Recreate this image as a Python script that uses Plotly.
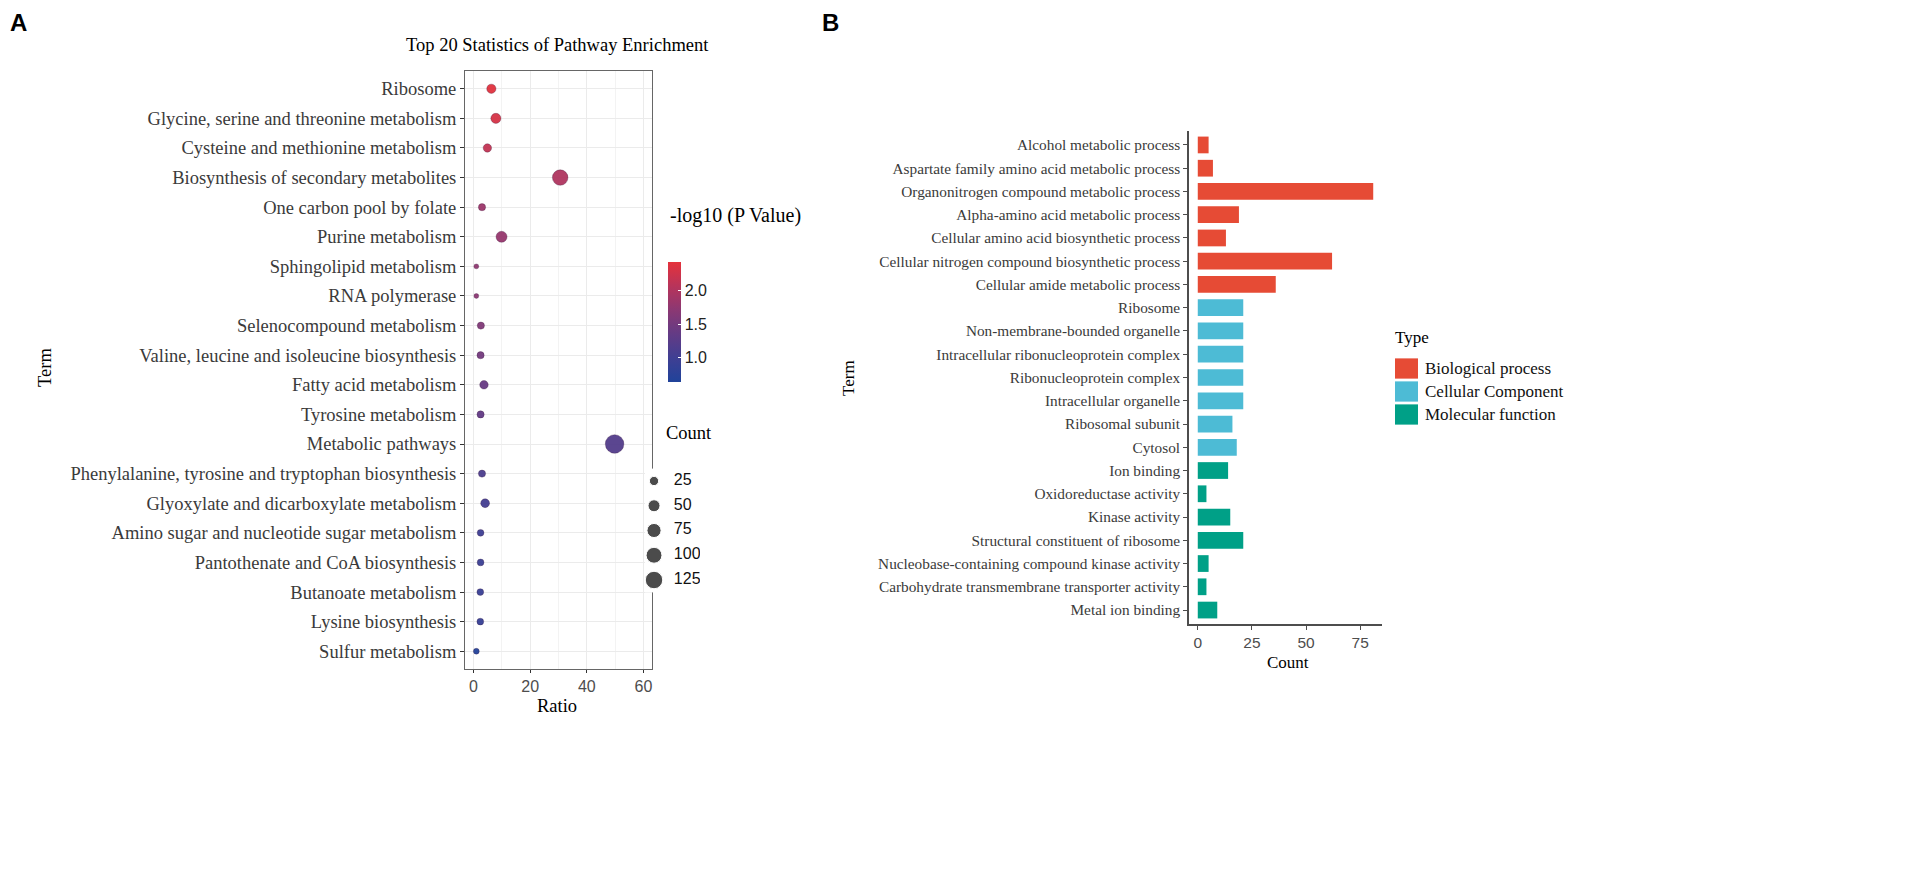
import numpy as np
import plotly.graph_objects as go

W, H = 1910, 883

# ---------------- Panel A data (KEGG pathway enrichment) ----------------
pathway_terms = [
    "Ribosome",
    "Glycine, serine and threonine metabolism",
    "Cysteine and methionine metabolism",
    "Biosynthesis of secondary metabolites",
    "One carbon pool by folate",
    "Purine metabolism",
    "Sphingolipid metabolism",
    "RNA polymerase",
    "Selenocompound metabolism",
    "Valine, leucine and isoleucine biosynthesis",
    "Fatty acid metabolism",
    "Tyrosine metabolism",
    "Metabolic pathways",
    "Phenylalanine, tyrosine and tryptophan biosynthesis",
    "Glyoxylate and dicarboxylate metabolism",
    "Amino sugar and nucleotide sugar metabolism",
    "Pantothenate and CoA biosynthesis",
    "Butanoate metabolism",
    "Lysine biosynthesis",
    "Sulfur metabolism",
]
pathway_ratio = [6.3, 7.9, 4.9, 30.6, 3.0, 9.9, 1.0, 1.0, 2.6, 2.5,
                 3.7, 2.5, 49.8, 3.0, 4.1, 2.5, 2.5, 2.4, 2.4, 1.0]
pathway_count = [25, 32, 19, 95, 12, 40, 3, 3, 12, 12,
                 20, 12, 145, 12, 22, 10, 10, 10, 10, 6]
pathway_logp = [2.40, 2.30, 2.15, 2.00, 1.85, 1.80, 1.75, 1.72, 1.62, 1.50,
                1.40, 1.35, 1.20, 1.12, 1.05, 0.98, 0.95, 0.92, 0.88, 0.66]
count_breaks = [25, 50, 75, 100, 125]
ratio_ticks = [0, 20, 40, 60]
logp_ticks = [1.0, 1.5, 2.0]

# ---------------- Panel B data (GO classification) ----------------
go_terms = [
    "Alcohol metabolic process",
    "Aspartate family amino acid metabolic process",
    "Organonitrogen compound metabolic process",
    "Alpha-amino acid metabolic process",
    "Cellular amino acid biosynthetic process",
    "Cellular nitrogen compound biosynthetic process",
    "Cellular amide metabolic process",
    "Ribosome",
    "Non-membrane-bounded organelle",
    "Intracellular ribonucleoprotein complex",
    "Ribonucleoprotein complex",
    "Intracellular organelle",
    "Ribosomal subunit",
    "Cytosol",
    "Ion binding",
    "Oxidoreductase activity",
    "Kinase activity",
    "Structural constituent of ribosome",
    "Nucleobase-containing compound kinase activity",
    "Carbohydrate transmembrane transporter activity",
    "Metal ion binding",
]
go_counts = [5, 7, 81, 19, 13, 62, 36, 21, 21, 21, 21, 21, 16, 18,
             14, 4, 15, 21, 5, 4, 9]
go_types = (["Biological process"] * 7 + ["Cellular Component"] * 7 +
            ["Molecular function"] * 7)
type_names = ["Biological process", "Cellular Component", "Molecular function"]
type_colors = ["#E64B35", "#4DBBD5", "#00A087"]
count_ticks = [0, 25, 50, 75]

# ---------------- helpers (layout only) ----------------
SERIF = "Liberation Serif"
SANS = "Liberation Sans"


def px(x):
    return x / W


def py(y):
    return 1 - y / H


def dot_size(c):
    return 2.6 + 1.33 * np.sqrt(np.asarray(c, dtype=float))


colorscale = [
    [0.0, "#20439a"],
    [0.2, "#3f3f93"],
    [0.4, "#633b85"],
    [0.6, "#8b3873"],
    [0.8, "#b8345a"],
    [1.0, "#e5323b"],
]

fig = go.Figure()

# Panel A bubbles
fig.add_trace(go.Scatter(
    x=pathway_ratio, y=pathway_terms, mode="markers",
    xaxis="x", yaxis="y", showlegend=False,
    marker=dict(
        size=dot_size(pathway_count), color=pathway_logp,
        colorscale=colorscale, cmin=0.64, cmax=2.43, opacity=0.95,
        line=dict(width=0.8, color="rgba(40,0,40,0.35)"),
        colorbar=dict(
            x=px(668), xanchor="left", xpad=0, ypad=0,
            y=py(322), yanchor="middle", len=120, lenmode="pixels",
            thickness=13, outlinewidth=0,
            tickvals=logp_ticks, ticktext=[f"{v:.1f}" for v in logp_ticks],
            ticks="inside", ticklen=3, tickcolor="white", tickwidth=1,
            tickfont=dict(family=SANS, size=16, color="#222"),
        ),
    ),
))

# Count size legend (keys drawn with the same size scale)
fig.add_trace(go.Scatter(
    x=[0] * len(count_breaks), y=[str(b) for b in count_breaks],
    mode="markers", xaxis="x3", yaxis="y3", showlegend=False,
    marker=dict(size=dot_size(count_breaks), color="black"),
    hoverinfo="skip",
))
fig.add_trace(go.Scatter(
    x=[2.2] * len(count_breaks), y=[str(b) for b in count_breaks],
    mode="text", text=[str(b) for b in count_breaks],
    textposition="middle right", xaxis="x3", yaxis="y3", showlegend=False,
    textfont=dict(family=SANS, size=16, color="#111"), hoverinfo="skip",
))

# Panel B bars
bar_colors = [type_colors[type_names.index(t)] for t in go_types]
fig.add_trace(go.Bar(
    x=go_counts, y=go_terms, orientation="h", xaxis="x2", yaxis="y2",
    marker=dict(color=bar_colors, line=dict(width=0)), width=0.72,
    showlegend=False,
))

# Type legend keys
fig.add_trace(go.Bar(
    x=[1] * len(type_names), y=type_names, orientation="h",
    xaxis="x4", yaxis="y4", width=0.88,
    marker=dict(color=type_colors, line=dict(width=0)), showlegend=False,
    hoverinfo="skip",
))

mx = max(go_counts)

fig.update_layout(
    width=W, height=H, autosize=False,
    margin=dict(l=0, r=0, t=0, b=0),
    paper_bgcolor="white", plot_bgcolor="white",
    barmode="overlay",
    xaxis=dict(
        domain=[px(465), px(652)], anchor="y", range=[-3, 63],
        tickvals=ratio_ticks, showgrid=True, gridcolor="#EBEBEB", gridwidth=1.1,
        minor=dict(tickvals=[10, 30, 50], showgrid=True, gridcolor="#F3F3F3",
                   gridwidth=0.6, ticks=""),
        showline=True, mirror=True, linecolor="#666", linewidth=1,
        ticks="outside", ticklen=3, tickcolor="#333", zeroline=False,
        tickfont=dict(family=SANS, size=16, color="#4d4d4d"),
    ),
    yaxis=dict(
        domain=[py(669), py(71)], anchor="x", type="category",
        categoryorder="array", categoryarray=pathway_terms,
        range=[len(pathway_terms) - 0.4, -0.6],
        showgrid=True, gridcolor="#EBEBEB", gridwidth=1.1,
        showline=True, mirror=True, linecolor="#666", linewidth=1,
        ticks="outside", ticklen=4, tickcolor="#333",
        tickfont=dict(family=SERIF, size=18.5, color="#3a3a3a"),
    ),
    xaxis2=dict(
        domain=[px(1189), px(1382)], anchor="y2",
        range=[-0.05 * mx, 1.05 * mx], tickvals=count_ticks,
        showgrid=False, zeroline=False,
        showline=True, linecolor="#4d4d4d", linewidth=1.6,
        ticks="outside", ticklen=4, tickcolor="#4d4d4d",
        tickfont=dict(family=SANS, size=15.5, color="#4d4d4d"),
    ),
    yaxis2=dict(
        domain=[py(624), py(131)], anchor="x2", type="category",
        categoryorder="array", categoryarray=go_terms,
        range=[len(go_terms) - 0.4, -0.6], showgrid=False,
        showline=True, linecolor="#4d4d4d", linewidth=1.6,
        ticks="outside", ticklen=4, tickcolor="#4d4d4d",
        tickfont=dict(family=SERIF, size=15.3, color="#3a3a3a"),
    ),
    xaxis3=dict(domain=[px(645), px(700)], anchor="y3", range=[-1, 5.1],
                visible=False),
    yaxis3=dict(domain=[py(592.4), py(468.6)], anchor="x3", type="category",
                categoryorder="array",
                categoryarray=[str(b) for b in count_breaks],
                range=[len(count_breaks) - 0.5, -0.5], visible=False),
    xaxis4=dict(domain=[px(1395), px(1418)], anchor="y4", range=[0, 1],
                visible=False),
    yaxis4=dict(domain=[py(426), py(357)], anchor="x4", type="category",
                categoryorder="array", categoryarray=type_names,
                range=[len(type_names) - 0.5, -0.5], side="right",
                showgrid=False, showline=False, ticks="", zeroline=False,
                ticklabelstandoff=6,
                tickfont=dict(family=SERIF, size=17, color="#111")),
)

annos = [
    dict(text="<b>A</b>", x=px(18), y=py(22), font=dict(family=SANS, size=24, color="black")),
    dict(text="<b>B</b>", x=px(830), y=py(22), font=dict(family=SANS, size=24, color="black")),
    dict(text="Top 20 Statistics of Pathway Enrichment", x=px(557), y=py(45),
         font=dict(family=SERIF, size=18.5, color="black")),
    dict(text="Ratio", x=px(557), y=py(706), font=dict(family=SERIF, size=18.5, color="black")),
    dict(text="Term", x=px(45), y=py(368), textangle=-90,
         font=dict(family=SERIF, size=18.5, color="black")),
    dict(text="-log10 (P Value)", x=px(668), y=py(215), xanchor="left",
         font=dict(family=SERIF, size=20, color="black")),
    dict(text="Count", x=px(664), y=py(433), xanchor="left",
         font=dict(family=SERIF, size=18.5, color="black")),
    dict(text="Count", x=px(1288), y=py(662), font=dict(family=SERIF, size=17, color="black")),
    dict(text="Term", x=px(848), y=py(378), textangle=-90,
         font=dict(family=SERIF, size=17, color="black")),
    dict(text="Type", x=px(1393), y=py(338), xanchor="left",
         font=dict(family=SERIF, size=17, color="black")),
]
for a in annos:
    a.setdefault("xanchor", "center")
    a.update(xref="paper", yref="paper", showarrow=False, yanchor="middle")
fig.update_layout(annotations=annos)

fig.write_html("out.html", config={"displayModeBar": False},
               post_script="document.body.style.margin='0';document.body.style.overflow='hidden';")
